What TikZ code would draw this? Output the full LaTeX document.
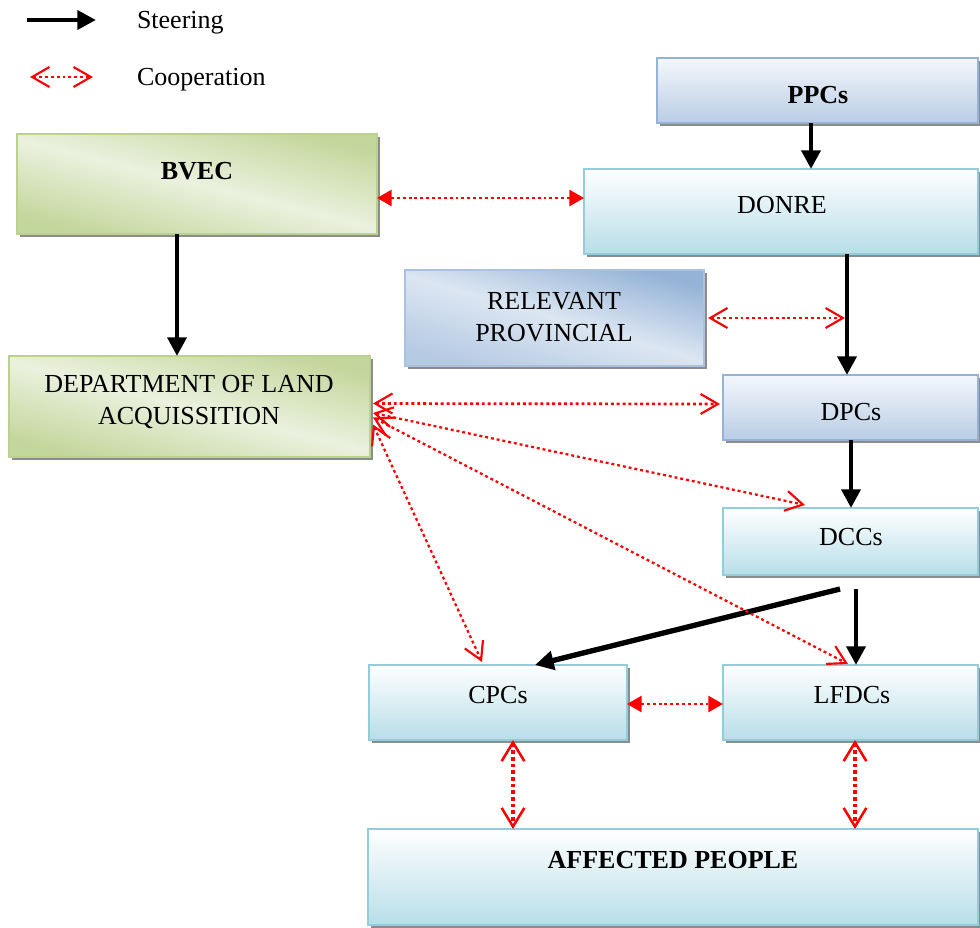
\documentclass[tikz,border=0pt]{standalone}
\usepackage{fontspec}
\setmainfont{Liberation Serif}
\usetikzlibrary{arrows.meta,calc,shadows}
\definecolor{grnL}{HTML}{EBF1DE}
\definecolor{grnD}{HTML}{C3D69B}
\definecolor{grnB}{HTML}{BDD18F}
\definecolor{bluL}{HTML}{F4F7FB}
\definecolor{bluD}{HTML}{B9CDE5}
\definecolor{bluB}{HTML}{95B3D7}
\definecolor{cyaD}{HTML}{B7DEE8}
\definecolor{cyaB}{HTML}{92CDDC}
\definecolor{relL}{HTML}{DCE6F2}
\definecolor{relD}{HTML}{95B3D7}
\definecolor{coop}{HTML}{FF0000}
\tikzset{
  box/.style={rectangle, inner sep=0pt, outer sep=0pt, line width=1.5pt,
    drop shadow={shadow xshift=2.2pt, shadow yshift=-2.2pt, fill=black!45, opacity=1}},
  greenbox/.style={box, draw=grnB, top color=grnD, bottom color=grnD, middle color=grnL, shading angle=-14},
  bluebox/.style={box, draw=bluB, top color=bluL, bottom color=bluD},
  relbox/.style={box, draw=bluB!80, top color=relD, bottom color=relD!70, middle color=relL, shading angle=-16},
  cyanbox/.style={box, draw=cyaB, top color=white, bottom color=cyaD},
  steer/.style={line width=3.6pt, -{Triangle[length=14pt,width=14pt]}},
  coopopen/.style={coop, line width=2pt, dash pattern=on 2.2pt off 2.2pt,
    {Straight Barb[length=13pt,width=15pt,line width=1.6pt]}-{Straight Barb[length=13pt,width=15pt,line width=1.6pt]}},
  coopthin/.style={coopopen, line width=1.7pt},
  coopfill/.style={coop, line width=2pt, dash pattern=on 2.2pt off 2.2pt,
    {Triangle[length=11pt,width=12pt]}-{Triangle[length=11pt,width=12pt]}},
  coopbig/.style={coop, line width=2.6pt, dash pattern=on 2.6pt off 2.4pt,
    {Straight Barb[length=14pt,width=17pt,line width=1.9pt]}-{Straight Barb[length=14pt,width=17pt,line width=1.9pt]}},
  lbl/.style={inner sep=0pt, outer sep=0pt}
}
\begin{document}
\begin{tikzpicture}[x=0.75pt,y=-0.75pt, font=\fontsize{19.5}{23.5}\selectfont]
\useasboundingbox (0,0) rectangle (980,927);

% legend
\coordinate (sa) at (27,20);
\coordinate (sb) at (96,20);
\coordinate (ca) at (30,77);
\coordinate (cb) at (93,77);
\draw[steer] (sa) -- (sb);
\draw[coopopen] (ca) -- (cb);
\node[lbl, anchor=base west] (legS) at (137,29) {Steering};
\node[lbl, anchor=base west] (legC) at (137,86) {Cooperation};

% boxes
\node[greenbox, minimum width=270pt, minimum height=75pt] (bvec) at (197,184) {};
\node[bluebox, minimum width=240.75pt, minimum height=48.75pt] (ppcs) at (817.5,90.5) {};
\node[cyanbox, minimum width=295.5pt, minimum height=63.75pt] (donre) at (781,211.5) {};
\node[relbox, minimum width=224.25pt, minimum height=72pt] (rel) at (554.5,318) {};
\node[greenbox, minimum width=270.75pt, minimum height=75.75pt] (dla) at (189.5,406.5) {};
\node[bluebox, minimum width=191.25pt, minimum height=48.75pt] (dpcs) at (850.5,407.5) {};
\node[cyanbox, minimum width=191.25pt, minimum height=50.25pt] (dccs) at (850.5,541.5) {};
\node[cyanbox, minimum width=193.5pt, minimum height=56.25pt] (cpcs) at (498,702.5) {};
\node[cyanbox, minimum width=191.25pt, minimum height=56.25pt] (lfdcs) at (850.5,702.5) {};
\node[cyanbox, minimum width=457.5pt, minimum height=72pt] (aff) at (673,877) {};

% texts
\node[lbl, anchor=base] (bvecT) at (197,180) {\textbf{BVEC}};
\node[lbl, anchor=base] (ppcsT) at (818,104) {\textbf{PPCs}};
\node[lbl, anchor=base] (donreT) at (782,214) {DONRE};
\node[lbl, align=center, font=\fontsize{19.5}{24}\selectfont] (relT) at (554,317) {RELEVANT\\PROVINCIAL};
\node[lbl, align=center, font=\fontsize{19.5}{24}\selectfont] (dlaT) at (189,402) {DEPARTMENT OF LAND\\ACQUISSITION};
\node[lbl, anchor=base] (dpcsT) at (851,420) {DPCs};
\node[lbl, anchor=base] (dccsT) at (851,545) {DCCs};
\node[lbl, anchor=base] (cpcsT) at (498,703) {CPCs};
\node[lbl, anchor=base] (lfdcsT) at (852,703) {LFDCs};
\node[lbl, anchor=base] (affT) at (673,868) {\textbf{AFFECTED PEOPLE}};

% steering arrows
\draw[steer] ($(ppcs.south)+(-6.5,0)$) -- ($(donre.north)+(30,0)$);
\draw[steer] ($(bvec.south)+(-20,0)$) -- ($(dla.north)+(-12.5,0)$);
\draw[steer] ($(donre.south)+(66,0)$) -- ($(dpcs.north)+(-3.5,0)$);
\draw[steer] ($(dpcs.south)+(0.5,0)$) -- ($(dccs.north)+(0.5,0)$);
\draw[steer, line width=4pt] ($(dccs.south)+(-10.5,14)$) -- ($(cpcs.north)+(37,0)$);
\draw[steer] ($(dccs.south)+(5.5,14)$) -- ($(lfdcs.north)+(5.5,0)$);

% cooperation arrows
\coordinate (relEnd) at (845,318);
\draw[coopfill] ($(bvec.east)+(0,14)$) -- ($(donre.west)+(0,-13.5)$);
\draw[coopopen] ($(rel.east)+(4,0)$) -- (relEnd);
\draw[coopopen] ($(dla.east)+(3,-3)$) -- ($(dpcs.west)+(-3,-3.5)$);
\draw[coopthin] ($(dla.east)+(3,6.5)$) -- ($(dccs.north)+(-45.5,-3)$);
\draw[coopthin] ($(dla.east)+(3,11)$) -- ($(lfdcs.north)+(-2.5,-1)$);
\draw[coopthin] ($(dla.east)+(3,18)$) -- ($(cpcs.north)+(-16,-3)$);
\draw[coopfill] ($(cpcs.east)+(0,1.5)$) -- ($(lfdcs.west)+(0,1.5)$);
\draw[coopbig] ($(cpcs.south)+(15,0)$) -- ($(aff.north)+(-160,0)$);
\draw[coopbig] ($(lfdcs.south)+(4.5,0)$) -- ($(aff.north)+(182,0)$);
\end{tikzpicture}
\end{document}
